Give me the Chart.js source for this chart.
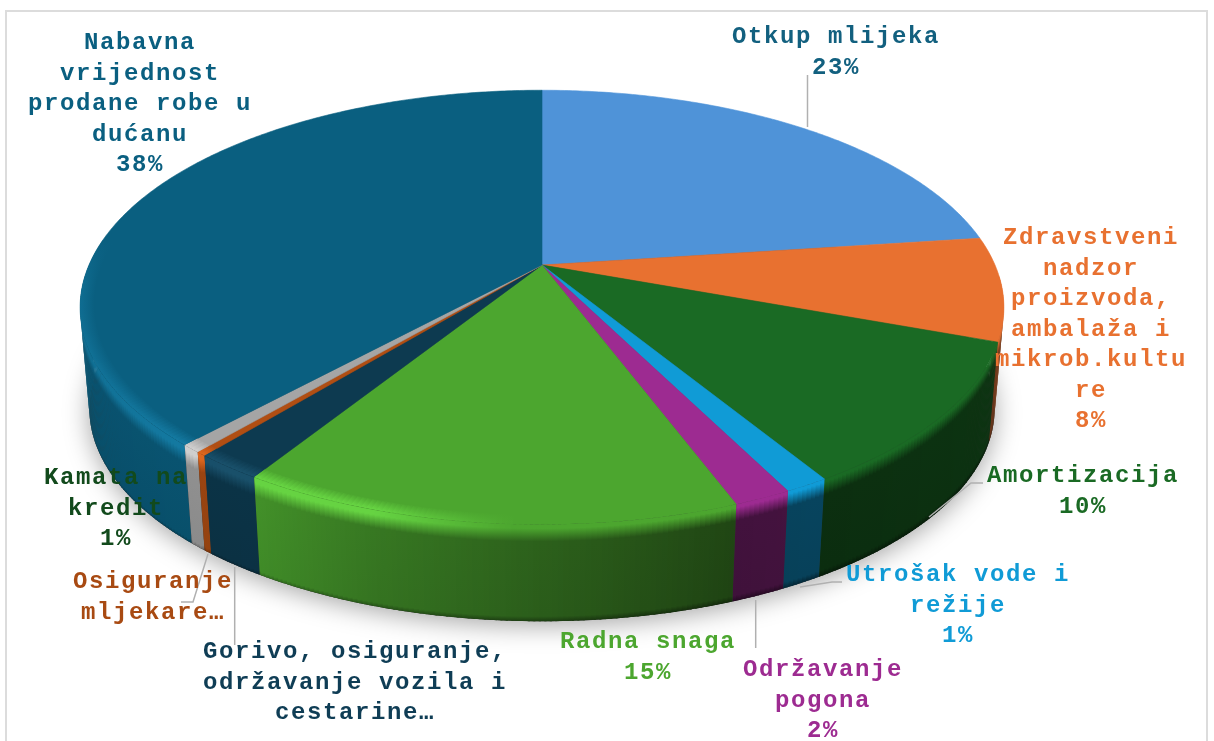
<!DOCTYPE html>
<html>
<head>
<meta charset="utf-8">
<style>
html,body{margin:0;padding:0;background:#fff;width:1214px;height:741px;overflow:hidden}
#frame{position:absolute;left:5px;top:10px;width:1199px;height:800px;border:2.5px solid #dcdcdc}
canvas{position:absolute;left:0;top:0}
</style>
<script src="https://cdn.jsdelivr.net/npm/chart.js@4"></script>
</head>
<body>
<div id="frame"></div>
<canvas id="c" width="1214" height="741"></canvas>
<script>
const categories = ["Otkup mlijeka","Zdravstveni nadzor proizvoda, ambalaža i mikrob.kulture","Amortizacija","Utrošak vode i režije","Održavanje pogona","Radna snaga","Gorivo, osiguranje, održavanje vozila i cestarine","Osiguranje mljekare","Kamata na kredit","Nabavna vrijednost prodane robe u dućanu"];
const values = [22.9,7.7,10.7,1.3,1.7,14.6,2.0,0.3,0.6,38.2];
const sliceColors = ["#4f93d8","#e87130","#1a6a24","#109bd6","#9d2b91","#4ca62f","#0d3a50","#b04e13","#a5a5a5","#0a5f80"];
const labelColors = ["#12607f","#e87130","#1a6a24","#109bd6","#9d2b91","#4ca62f","#0f3d55","#a84a12","#124a1c","#0a5f80"];
const labelLines = [
 ["Otkup mlijeka","23%"],
 ["Zdravstveni","nadzor","proizvoda,","ambalaža i","mikrob.kultu","re","8%"],
 ["Amortizacija","10%"],
 ["Utrošak vode i","režije","1%"],
 ["Održavanje","pogona","2%"],
 ["Radna snaga","15%"],
 ["Gorivo, osiguranje,","održavanje vozila i","cestarine…"],
 ["Osiguranje","mljekare…"],
 ["Kamata na","kredit","1%"],
 ["Nabavna","vrijednost","prodane robe u","dućanu","38%"]
];
const labelX = [836,1091,1083,958,823,648,355,153,116,140];
const labelY = [37,238,476,575,670,642,652,582,478,43];
const leaders = [
 [[807.5,75],[807.5,127]],null,
 [[983,483],[971,483],[929,517]],
 [[842,582],[832,582],[800,587]],
 [[755.7,600],[755.7,648]],null,
 [[234.7,567],[234.7,645]],
 [[208,554],[193,602],[181,602]],null,null
];
const K=0.195, YRATIO=0.461, DEPTH=102, BOTTOM=0.98, LINE=30.5, RIM=0.97;

function rgb(h){return [1,3,5].map(i=>parseInt(h.substr(i,2),16));}
function shade(h,f){return 'rgb('+rgb(h).map(c=>Math.max(0,Math.min(255,Math.round(c*f+(f>1?40*(f-1):0))))).join(',')+')';}
function lerp(a,b,t){return a+(b-a)*Math.max(0,Math.min(1,t));}
function wallF(u){
  if(u<-0.54) return lerp(0.86,0.88,(u+1)/0.46);
  if(u<-0.3) return lerp(0.88,0.72,(u+0.54)/0.24);
  if(u<0) return lerp(0.72,0.58,(u+0.3)/0.3);
  if(u<0.35) return lerp(0.58,0.42,u/0.35);
  return lerp(0.42,0.5,(u-0.35)/0.65);
}
function hiF(u){
  if(u>-0.05) return 1;
  if(u>-0.3) return lerp(1,1.22,(-u-0.05)/0.25);
  if(u>-0.6) return 1.22;
  return lerp(1.22,1.1,(-u-0.6)/0.4);
}
function proj(arc,ang,bottom,s){
  s=s||1;
  const u=Math.cos(ang)*s,v=Math.sin(ang)*s,w=1-K*v,R=arc.outerRadius*(bottom?BOTTOM:1);
  return {x:arc.x+R*u/w,y:arc.y+(bottom?DEPTH:0)+R*YRATIO*v/w};
}
function curve(ctx,arc,a0,a1,bottom,first){
  const n=Math.max(2,Math.ceil(Math.abs(a1-a0)/0.01));
  for(let i=0;i<=n;i++){
    const p=proj(arc,a0+(a1-a0)*i/n,bottom);
    if(i===0&&first) ctx.moveTo(p.x,p.y); else ctx.lineTo(p.x,p.y);
  }
}
const pie3d={
  id:'pie3d',
  beforeDatasetDraw(chart){
    const ctx=chart.ctx, arcs=chart.getDatasetMeta(0).data, a=arcs[0];
    ctx.save();
    // soft drop shadow under the body
    ctx.save();
    ctx.shadowColor='rgba(0,0,0,0.36)';ctx.shadowBlur=26;ctx.shadowOffsetY=4;
    ctx.fillStyle='#333';
    ctx.beginPath();curve(ctx,a,0,Math.PI*2,true,true);ctx.closePath();ctx.fill();
    ctx.restore();
    // side wall columns, painted back to front
    const cols=[];
    arcs.forEach((arc,i)=>{
      const step=0.01;
      for(let s=arc.startAngle;s<arc.endAngle;s+=step){
        const e=Math.min(s+step+0.004,arc.endAngle),m=(s+e)/2;
        if(Math.sin(m)<0.05) continue;
        cols.push({arc,col:sliceColors[i],s,e,m});
      }
    });
    cols.sort((p,q)=>Math.sin(p.m)-Math.sin(q.m));
    cols.forEach(({arc,col,s,e,m})=>{
      const u=Math.cos(m),f=wallF(u),hi=hiF(u);
      const t0=proj(arc,s,false),t1=proj(arc,e,false),b0=proj(arc,s,true),b1=proj(arc,e,true);
      const g=ctx.createLinearGradient(t0.x,t0.y,b0.x,b0.y);
      const len=Math.hypot(b0.x-t0.x,b0.y-t0.y);
      g.addColorStop(0,shade(col,hi));
      g.addColorStop(4/len,shade(col,hi));
      g.addColorStop(17/len,shade(col,f));
      g.addColorStop(1-5/len,shade(col,f*0.96));
      g.addColorStop(1,shade(col,f*0.62));
      ctx.fillStyle=g;
      ctx.beginPath();ctx.moveTo(t0.x,t0.y);ctx.lineTo(t1.x,t1.y);ctx.lineTo(b1.x,b1.y);ctx.lineTo(b0.x,b0.y);ctx.closePath();ctx.fill();
    });
    // top face
    arcs.forEach((arc,i)=>{
      ctx.fillStyle=sliceColors[i];ctx.strokeStyle=sliceColors[i];ctx.lineWidth=0.6;
      ctx.beginPath();ctx.moveTo(arc.x,arc.y);curve(ctx,arc,arc.startAngle,arc.endAngle,false,false);ctx.closePath();ctx.fill();ctx.stroke();
    });
    // rounded rim on the lit side of the top face
    arcs.forEach((arc,i)=>{
      const col=sliceColors[i],step=0.01;
      for(let s=arc.startAngle;s<arc.endAngle;s+=step){
        const e=Math.min(s+step+0.004,arc.endAngle),m=(s+e)/2;
        const u=Math.cos(m),v=Math.sin(m);
        const hi=lerp(1,hiF(u),(v+0.12)/0.22);
        if(hi<=1.001) continue;
        const o0=proj(arc,s,false),o1=proj(arc,e,false),n0=proj(arc,s,false,RIM),n1=proj(arc,e,false,RIM);
        const g=ctx.createLinearGradient(n0.x,n0.y,o0.x,o0.y);
        g.addColorStop(0,col);g.addColorStop(1,shade(col,hi));
        ctx.fillStyle=g;
        ctx.beginPath();ctx.moveTo(n0.x,n0.y);ctx.lineTo(n1.x,n1.y);ctx.lineTo(o1.x,o1.y);ctx.lineTo(o0.x,o0.y);ctx.closePath();ctx.fill();
      }
    });
    // leader lines
    ctx.strokeStyle='#b0b0b0';ctx.lineWidth=1.5;
    leaders.forEach(l=>{ if(!l) return;
      ctx.beginPath();l.forEach((p,j)=>j?ctx.lineTo(p[0],p[1]):ctx.moveTo(p[0],p[1]));ctx.stroke();
    });
    // data labels
    ctx.font='bold 24px "Liberation Mono"';
    ctx.letterSpacing='1.6px';
    ctx.textAlign='center';ctx.textBaseline='middle';
    labelLines.forEach((lines,i)=>{
      ctx.fillStyle=labelColors[i];
      lines.forEach((t,j)=>ctx.fillText(t,labelX[i],labelY[i]+j*LINE));
    });
    ctx.restore();
    return false;
  }
};
new Chart(document.getElementById('c'),{
  type:'pie',
  data:{labels:categories,datasets:[{data:values,backgroundColor:sliceColors,borderWidth:0}]},
  options:{
    responsive:false,animation:false,radius:453,
    layout:{padding:{left:0,right:130,top:0,bottom:211}},
    plugins:{legend:{display:false},tooltip:{enabled:false}}
  },
  plugins:[pie3d]
});
</script>
</body>
</html>
